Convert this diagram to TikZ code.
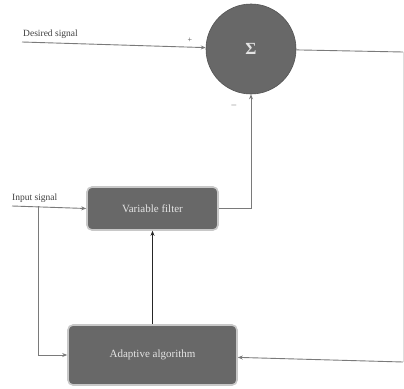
\documentclass[tikz,border=0pt]{standalone}
\usepackage{fontspec}
\setmainfont{Liberation Serif}
\usetikzlibrary{arrows.meta}
\definecolor{blockfill}{HTML}{686868}
\definecolor{blockrim}{HTML}{C8C8C8}
\definecolor{wire}{HTML}{7A7A7A}
\definecolor{blocktext}{HTML}{E4E4E4}
\begin{document}
\begin{tikzpicture}[x=1pt,y=-1pt,
  block/.style={draw=blockrim, line width=1.6pt, fill=blockfill, rounded corners=5pt,
    text=blocktext, font=\fontsize{11}{12}\selectfont, inner sep=0pt},
  sumnode/.style={circle, fill=blockfill, draw=blockfill!80!black, line width=0.6pt,
    minimum size=90pt, inner sep=0pt, text=blocktext, font=\fontsize{17}{17}\selectfont\bfseries},
  wirestyle/.style={draw=wire, line width=0.9pt},
  sig/.style={wirestyle, -{Stealth[length=5pt,width=4pt]}},
  lbl/.style={text=black!75, font=\fontsize{9.5}{10}\selectfont, inner sep=0pt},
  sgn/.style={text=black!70, font=\fontsize{8}{8}\selectfont, inner sep=0pt}]
\useasboundingbox[fill=white] (0,0) rectangle (404,388);

% blocks
\node[sumnode] (s) at (251,49) {Σ};
\node[block, minimum width=131pt, minimum height=43pt] (vf) at (152.5,208.5) {Variable filter};
\node[block, minimum width=169pt, minimum height=60pt] (aa) at (152.5,355) {Adaptive algorithm};

% free ends of the wires
\coordinate (d0) at (22,42);
\coordinate (in0) at (12,206);
\coordinate (br) at (38,206);
\coordinate (oc) at (403,52);
\coordinate (fb) at (403,362);

% labels
\node[lbl, anchor=base west] (dl) at (23,36) {Desired signal};
\node[lbl, anchor=base west] (il) at (12,200) {Input signal};
\node[sgn] (plus) at (190,40) {+};
\node[sgn] (minus) at (234,105) {$-$};

% wires
\draw[sig] (d0) -- (s);
\draw[wirestyle] (s) -- (oc);
\draw[wirestyle, draw=wire!25, line width=0.7pt] (oc) -- (fb);
\draw[sig] (fb) -- (aa);
\draw[sig] (vf.east) -| (s.south);
\draw[sig] (in0) -- (vf.west);
\draw[sig] (br) |- (aa.west);
\draw[sig, draw=black!85, line width=1.6pt] (aa.north) -- (vf.south);
\end{tikzpicture}
\end{document}
